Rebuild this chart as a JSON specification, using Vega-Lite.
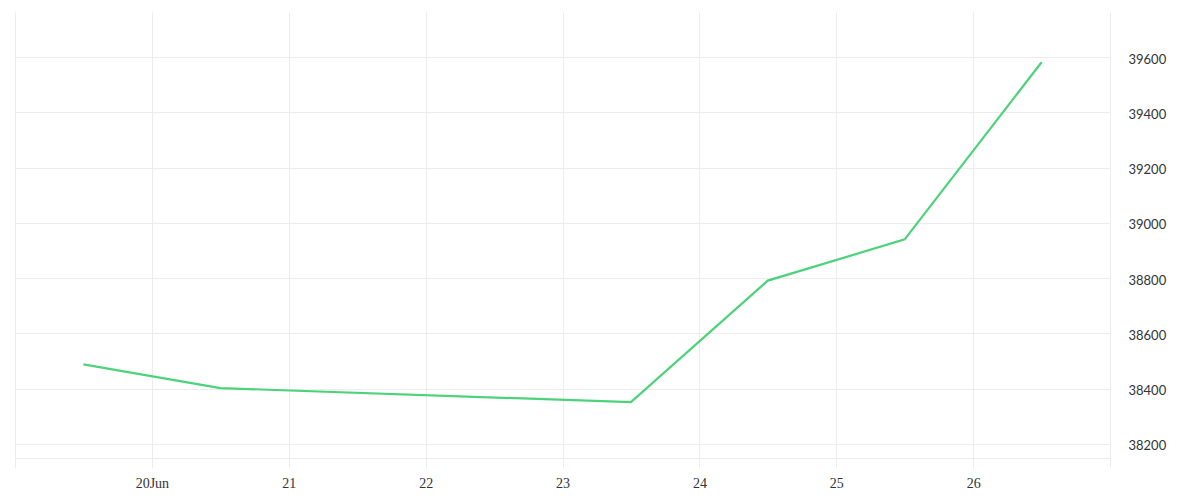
{
  "$schema": "https://vega.github.io/schema/vega-lite/v6.json",
  "width": 1095,
  "height": 446,
  "autosize": {"type": "none"},
  "padding": {"left": 15, "top": 12, "right": 90, "bottom": 42},
  "background": "#ffffff",
  "config": {"view": {"stroke": null}},
  "data": {
    "values": [
      {"date": "2025-06-19T12:00:00", "value": 38488},
      {"date": "2025-06-20T12:00:00", "value": 38402},
      {"date": "2025-06-23T12:00:00", "value": 38351},
      {"date": "2025-06-24T12:00:00", "value": 38791},
      {"date": "2025-06-25T12:00:00", "value": 38940},
      {"date": "2025-06-26T12:00:00", "value": 39581}
    ]
  },
  "mark": {"type": "line", "color": "#4cd27b", "strokeWidth": 2.2},
  "encoding": {
    "x": {
      "field": "date",
      "type": "temporal",
      "scale": {"domain": [{"year": 2025, "month": 6, "date": 19}, {"year": 2025, "month": 6, "date": 27}]},
      "axis": {
        "title": null,
        "values": [
          {"year": 2025, "month": 6, "date": 19},
          {"year": 2025, "month": 6, "date": 20},
          {"year": 2025, "month": 6, "date": 21},
          {"year": 2025, "month": 6, "date": 22},
          {"year": 2025, "month": 6, "date": 23},
          {"year": 2025, "month": 6, "date": 24},
          {"year": 2025, "month": 6, "date": 25},
          {"year": 2025, "month": 6, "date": 26},
          {"year": 2025, "month": 6, "date": 27}
        ],
        "labelExpr": "date(datum.value) == 20 ? '20Jun' : ((date(datum.value) == 19 || date(datum.value) == 27) ? '' : timeFormat(datum.value, '%-d'))",
        "grid": true,
        "gridColor": "#ececec",
        "gridWidth": 1,
        "ticks": true,
        "tickSize": 10,
        "tickColor": "#ececec",
        "domain": true,
        "domainColor": "#ececec",
        "labelFont": "Liberation Serif",
        "labelFontSize": 14,
        "labelColor": "#333333",
        "labelPadding": 8,
        "labelFlush": false,
        "labelOverlap": false
      }
    },
    "y": {
      "field": "value",
      "type": "quantitative",
      "scale": {"domain": [38149, 39763], "nice": false, "zero": false},
      "axis": {
        "title": null,
        "orient": "right",
        "values": [38200, 38400, 38600, 38800, 39000, 39200, 39400, 39600],
        "format": "d",
        "grid": true,
        "gridColor": "#ececec",
        "ticks": false,
        "domain": false,
        "labelFont": "Lato",
        "labelFontSize": 13,
        "labelColor": "#333333",
        "labelPadding": 18,
        "labelBaseline": "middle",
        "labelOffset": 2
      }
    }
  }
}
